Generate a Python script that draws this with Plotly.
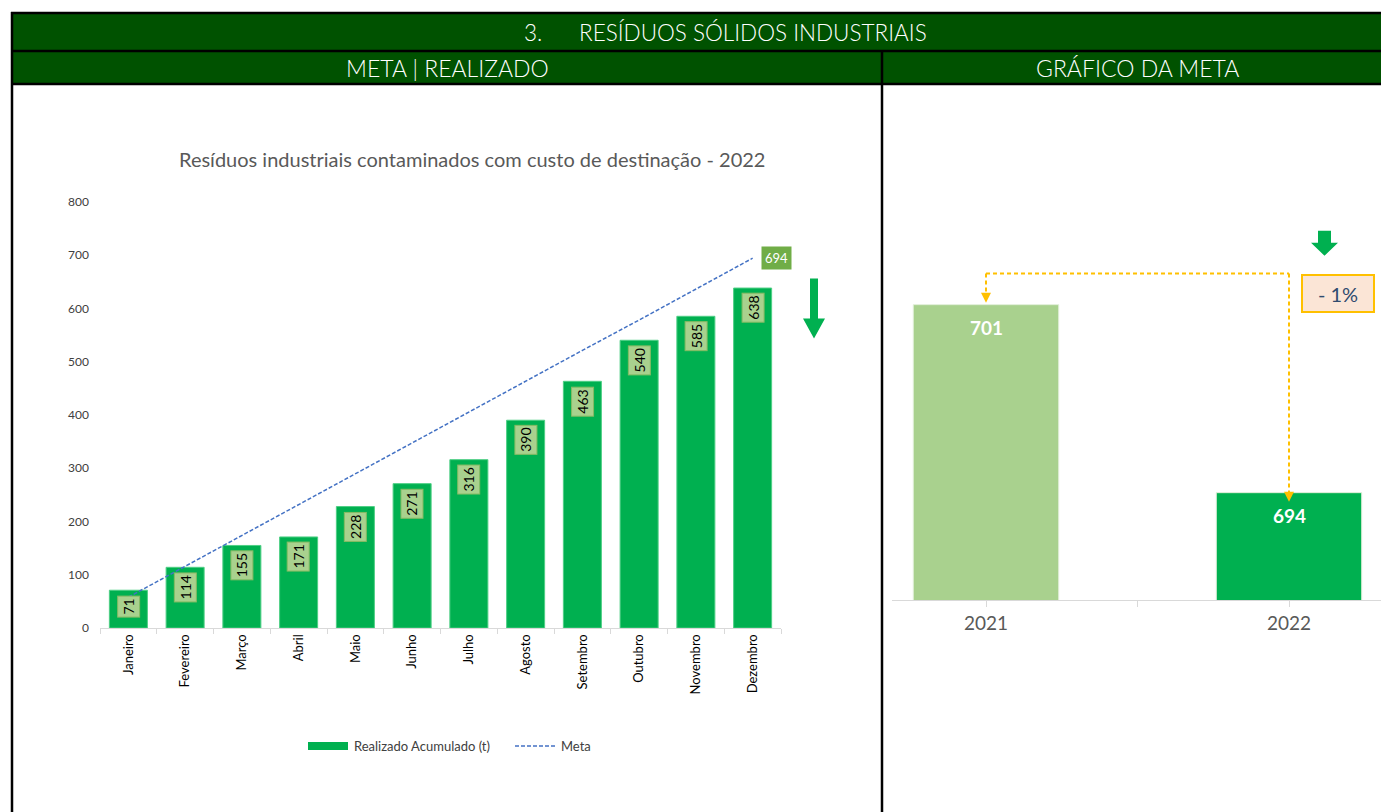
import plotly.graph_objects as go

# ---------------- data ----------------
months = ["Janeiro", "Fevereiro", "Março", "Abril", "Maio", "Junho", "Julho",
          "Agosto", "Setembro", "Outubro", "Novembro", "Dezembro"]
realizado = [71, 114, 155, 171, 228, 271, 316, 390, 463, 540, 585, 638]
meta = [58, 116, 174, 231, 289, 347, 405, 463, 521, 578, 636, 694]
meta_final = 694

anos = ["2021", "2022"]
anos_vals = [701, 694]
variacao = "- 1%"

y_ticks = [0, 100, 200, 300, 400, 500, 600, 700, 800]

W, H = 1381, 812
# the captured page shows a small vertical offset/compression; compensate in layout positions
Y_OFF, Y_SCALE = 7.0, 0.983
def px(x):
    return x / W
def py(y):
    return 1 - ((y - Y_OFF) / Y_SCALE) / H

FONT = "Lato, 'Open Sans', sans-serif"
GREEN = "#00b050"
LIGHT = "#a9d18e"
HEADER = "#005200"

fig = go.Figure()

# left chart
fig.add_trace(go.Bar(x=months, y=realizado, marker=dict(color=GREEN, line=dict(width=1, color="#4fcf85")),
                     width=0.67, name="Realizado Acumulado (t)", xaxis="x", yaxis="y", showlegend=False,
                     hoverinfo="x+y"))
fig.add_trace(go.Scatter(x=months, y=meta, mode="lines", line=dict(color="#4472c4", width=1.5, dash="4px,2px"),
                         name="Meta", xaxis="x", yaxis="y", showlegend=False))

# right chart
fig.add_trace(go.Bar(x=[0, 1], y=anos_vals, marker=dict(color=[LIGHT, GREEN], line=dict(width=1, color="#e2efda")),
                     width=0.48, xaxis="x2", yaxis="y2", showlegend=False))

shapes = []
ann = []

# header blocks
shapes.append(dict(type="rect", xref="paper", yref="paper", x0=px(11), x1=px(1381), y0=py(11), y1=py(84),
                   fillcolor=HEADER, line=dict(width=0), layer="below"))
for (x0, y0, x1, y1) in [(11, 12, 1381, 12), (11, 50, 1381, 50), (11, 83, 1381, 83),
                         (12, 11, 12, 830), (882, 50, 882, 830)]:
    shapes.append(dict(type="line", xref="paper", yref="paper", x0=px(x0), x1=px(x1), y0=py(y0), y1=py(y1),
                       line=dict(color="black", width=2.5)))

HF = dict(family=FONT, size=22.5, color="white", weight=300)
ann.append(dict(xref="paper", yref="paper", x=px(544), y=py(32), text="3.", showarrow=False,
                xanchor="right", yanchor="middle", font=HF))
ann.append(dict(xref="paper", yref="paper", x=px(577), y=py(32), text="RESÍDUOS SÓLIDOS INDUSTRIAIS", showarrow=False,
                xanchor="left", yanchor="middle", font=HF))
ann.append(dict(xref="paper", yref="paper", x=px(447), y=py(67), text="META | REALIZADO", showarrow=False,
                xanchor="center", yanchor="middle", font=dict(HF, size=23)))
ann.append(dict(xref="paper", yref="paper", x=px(1137), y=py(67), text="GRÁFICO DA META", showarrow=False,
                xanchor="center", yanchor="middle", font=dict(HF, size=23)))

# chart title
ann.append(dict(xref="paper", yref="paper", x=px(472), y=py(158),
                text="Resíduos industriais contaminados com custo de destinação - 2022", showarrow=False,
                xanchor="center", yanchor="middle", font=dict(family=FONT, size=20, color="#595959")))

# bar labels (left)
for m, v in zip(months, realizado):
    ann.append(dict(xref="x", yref="y", x=m, y=v, text=str(v), showarrow=False, textangle=-90,
                    xanchor="center", yanchor="top", yshift=-5, bgcolor=LIGHT, bordercolor="#86bb63",
                    borderwidth=1, borderpad=2, font=dict(family=FONT, size=14, color="black")))
# meta label
ann.append(dict(xref="x", yref="y", x=months[-1], y=meta_final, text=str(meta_final), showarrow=False,
                xanchor="left", yanchor="middle", xshift=8, bgcolor="#70ad47", borderpad=3,
                font=dict(family=FONT, size=13, color="white")))

# legend (manual)
shapes.append(dict(type="rect", xref="paper", yref="paper", x0=px(308), x1=px(348), y0=py(742), y1=py(750),
                   fillcolor=GREEN, line=dict(width=0)))
ann.append(dict(xref="paper", yref="paper", x=px(352), y=py(746), text="Realizado Acumulado (t)", showarrow=False,
                xanchor="left", yanchor="middle", font=dict(family=FONT, size=13, color="#404040")))
shapes.append(dict(type="line", xref="paper", yref="paper", x0=px(515), x1=px(555), y0=py(746), y1=py(746),
                   line=dict(color="#4472c4", width=1.5, dash="4px,2px")))
ann.append(dict(xref="paper", yref="paper", x=px(559), y=py(746), text="Meta", showarrow=False,
                xanchor="left", yanchor="middle", font=dict(family=FONT, size=13, color="#404040")))

# green arrows
def down_arrow(cx, top, shaft_bottom, tip, sw, hw):
    return ("M{a},{t} L{b},{t} L{b},{s} L{c},{s} L{cx},{tip} L{d},{s} L{a},{s} Z").format(
        a=px(cx - sw / 2), b=px(cx + sw / 2), t=py(top), s=py(shaft_bottom),
        c=px(cx + hw / 2), d=px(cx - hw / 2), cx=px(cx), tip=py(tip))
shapes.append(dict(type="path", xref="paper", yref="paper", path=down_arrow(814, 278, 318, 338, 8, 22),
                   fillcolor=GREEN, line=dict(width=0)))
shapes.append(dict(type="path", xref="paper", yref="paper", path=down_arrow(1324.5, 230, 242, 255, 13, 27),
                   fillcolor=GREEN, line=dict(width=0)))

# right chart labels
for i, v in enumerate(anos_vals):
    ann.append(dict(xref="x2", yref="y2", x=i, y=v, text="<b>%d</b>" % v, showarrow=False,
                    xanchor="center", yanchor="middle", yshift=-23,
                    font=dict(family=FONT, size=19, color="white")))

# orange connector
conn_y = 702.16
ORANGE = "#ffc000"
shapes.append(dict(type="line", xref="x2", yref="y2", x0=0, x1=1, y0=conn_y, y1=conn_y,
                   line=dict(color=ORANGE, width=2, dash="4px,3px")))
shapes.append(dict(type="line", xref="x2", yref="y2", x0=0, x1=0, y0=conn_y, y1=anos_vals[0] + 0.4,
                   line=dict(color=ORANGE, width=2, dash="4px,3px")))
shapes.append(dict(type="line", xref="x2", yref="y2", x0=1, x1=1, y0=conn_y, y1=anos_vals[1] - 0.05,
                   line=dict(color=ORANGE, width=2, dash="4px,3px")))
for i, v, off in [(0, anos_vals[0], 2), (1, anos_vals[1], -9)]:
    shapes.append(dict(type="path", xref="x2", yref="y2", xsizemode="pixel", ysizemode="pixel",
                       xanchor=i, yanchor=v, path="M-5,%d L5,%d L0,%d Z" % (off + 10, off + 10, off),
                       fillcolor=ORANGE, line=dict(width=0)))

# -1% box
ann.append(dict(xref="paper", yref="paper", x=px(1337.5), y=py(292.5), text=variacao, showarrow=False,
                xanchor="center", yanchor="middle", width=68, height=33, bgcolor="#fbe5d6",
                bordercolor=ORANGE, borderwidth=2, font=dict(family=FONT, size=20, color="#2f4b6e")))

# right axis: category centres at x=986 and x=1289 px, axis from 892 px to the right edge
c0, c1 = 986, 1289
unit = c1 - c0
x2_range = [-(c0 - 892) / unit, 1 + (W - c1) / unit]

# y2 scale: baseline at 600 px, 26.9 px per unit; axis bottom value 690
y2_top_val = 690 + (600 - 200) / 26.9

fig.update_layout(
    width=W, height=H, autosize=False,
    margin=dict(l=0, r=0, t=0, b=0),
    paper_bgcolor="white", plot_bgcolor="white",
    shapes=shapes, annotations=ann, showlegend=False, bargap=0.33,
    xaxis=dict(domain=[px(100), px(781)], range=[-0.5, 11.5], type="category",
               showline=True, linecolor="#d9d9d9", linewidth=1, ticks="outside", tickson="boundaries",
               ticklen=5, tickcolor="#d9d9d9", tickangle=-90, showgrid=False, zeroline=False,
               tickfont=dict(family=FONT, size=13, color="#000000"), anchor="y"),
    yaxis=dict(domain=[py(628), py(201)], range=[0, 800], tickvals=y_ticks, showgrid=False,
               zeroline=False, showline=False, ticks="", ticklabelstandoff=10,
               tickfont=dict(family=FONT, size=12, color="#404040"), anchor="x"),
    xaxis2=dict(domain=[px(892), 1], range=x2_range, tickvals=[0, 0.5, 1], ticktext=["2021", "", "2022"],
                showline=True, linecolor="#d9d9d9", linewidth=1, ticks="outside", ticklen=6, tickcolor="#d9d9d9",
                showgrid=False, zeroline=False, tickfont=dict(family=FONT, size=19, color="#595959"), anchor="y2"),
    yaxis2=dict(domain=[py(600), py(200)], range=[690, y2_top_val], visible=False, anchor="x2"),
)

fig.write_html(
    "out.html",
    config={"displayModeBar": False},
    post_script=("document.documentElement.style.margin='0';document.body.style.margin='0';"
                 "var d=document.getElementById('{plot_id}');d.style.position='fixed';"
                 "d.style.top='0';d.style.left='0';"),
)
